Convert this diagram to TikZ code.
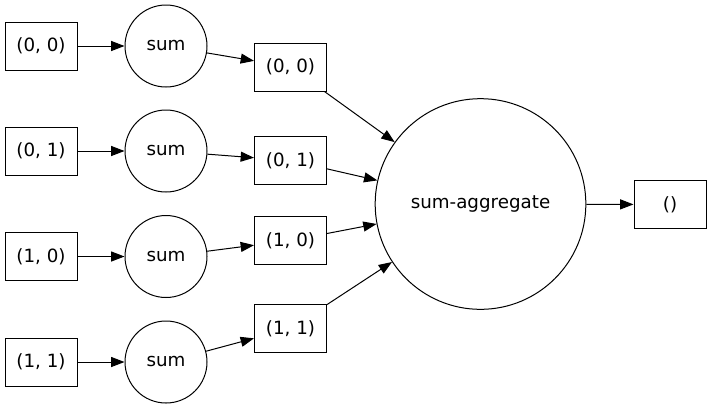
\documentclass[tikz,border=0pt]{standalone}
\usepackage{fontspec}
\setmainfont{DejaVu Sans}
\usetikzlibrary{arrows.meta}
\begin{document}
\begin{tikzpicture}[x=0.75pt,y=-0.75pt,
    every node/.style={font=\fontsize{13.7}{16}\selectfont, line width=0.75pt},
    datum/.style={draw, rectangle, minimum width=54pt, minimum height=36pt, inner sep=0pt},
    task/.style={draw, circle, minimum size=61.5pt, inner sep=0pt},
    edge/.style={line width=0.75pt, -{Triangle[length=10pt,width=7.5pt]}}]
    \useasboundingbox (0,0) rectangle (712,408);
    % aggregate node and result
    \node[task, minimum size=158pt] (agg) at (480.5,204) {sum-aggregate};
    \node[datum] (res) at (670,204.5) {()};
    \draw[edge] (agg) -- (res);
    % one row per chunk
    \foreach \k/\ya/\yb/\lbl in {0/46/67/{(0, 0)}, 1/151/160.5/{(0, 1)},
                                 2/256.5/240.5/{(1, 0)}, 3/362/328.5/{(1, 1)}} {
      \node[datum] (in\k) at (41,\ya) {\lbl};
      \node[task] (sum\k) at (166,\ya) {sum};
      \node[datum] (part\k) at (290.5,\yb) {\lbl};
      \draw[edge] (in\k) -- (sum\k);
      \draw[edge] (sum\k) -- (part\k);
      \draw[edge] (part\k) -- (agg);
    }
  \end{tikzpicture}
\end{document}
